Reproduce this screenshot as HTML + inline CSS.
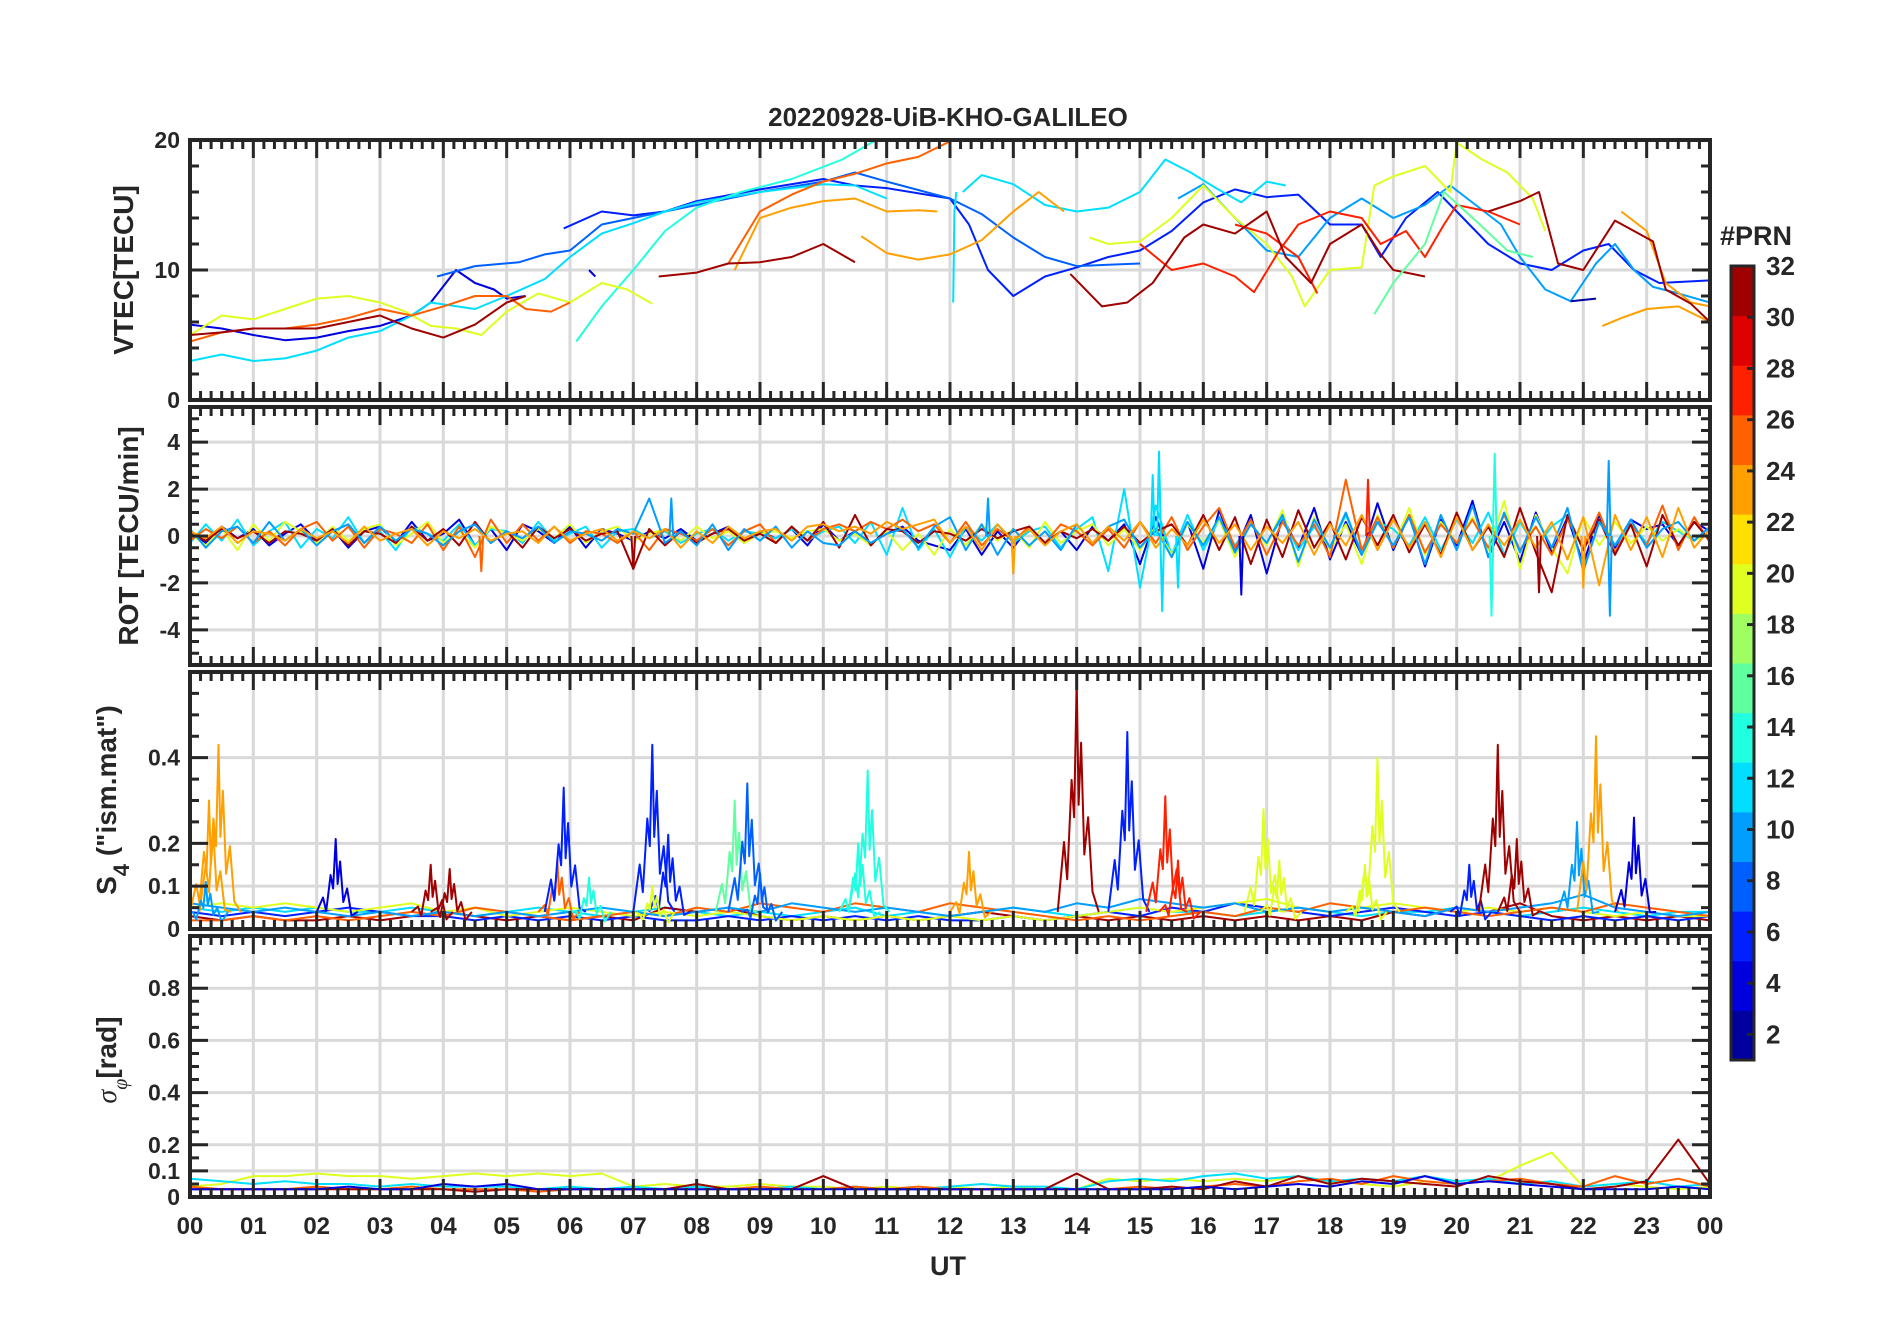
<!DOCTYPE html>
<html><head><meta charset="utf-8"><style>
html,body{margin:0;padding:0;background:#fff;width:1902px;height:1330px;overflow:hidden}
svg text{font-family:"Liberation Sans",Arial,sans-serif;font-weight:bold;fill:#262626}
</style></head><body>
<svg id="chart" width="1902" height="1330" xmlns="http://www.w3.org/2000/svg"></svg>
<script>
// ---------- DATA ----------
const hourTicks = ["00","01","02","03","04","05","06","07","08","09","10","11","12","13","14","15","16","17","18","19","20","21","22","23","00"];
const vtecTicks = [0,10,20];
const rotTicks = [-4,-2,0,2,4];
const s4Ticks = [0,0.1,0.2,0.4];
const phiTicks = [0,0.1,0.2,0.4,0.6,0.8];
const cbTicks = [2,4,6,8,10,12,14,16,18,20,22,24,26,28,30,32];

// VTEC traces: prn + [hour, TECU] points
const vtecPrn = [3,5,8,11,12,14,12,10,19,20,24,24,24,24,26,26,28,28,31,31,31,31,16,4,2];
const vtecPts = [
 [[0,5.8],[0.5,5.5],[1,5],[1.5,4.6],[2,4.8],[2.5,5.3],[3,5.7],[3.5,6.5],[3.8,7.5],[4.2,10],[4.5,9],[4.8,8.5],[5,7.8],[5.3,8]],
 [[5.9,13.2],[6.5,14.5],[7,14.2],[7.5,14.5],[8,15.3],[9,16.2],[10,17],[10.5,16.5],[11,16.3],[12,15.5],[12.3,13.5],[12.6,10],[13,8],[13.5,9.5],[14,10.2],[14.5,11],[15,11.5],[15.5,13],[16,15.2],[16.5,16.2],[17,15.6],[17.5,15.8],[18,13.5],[18.5,13.5],[18.8,11],[19.2,14],[19.7,16],[20,14.5],[20.5,12],[21,10.5],[21.5,10],[22,11.5],[22.4,12],[22.8,10],[23.2,9],[24,9.2]],
 [[3.9,9.5],[4.5,10.3],[5.2,10.6],[5.6,11.2],[6,11.5],[6.5,13.5],[7.2,14.2],[8,15],[9,16],[10,16.8],[10.5,17.5],[11,16.8],[12,15.5],[12.5,14.3],[13,12.5],[13.5,11],[14,10.3],[14.5,10.4],[15,10.5]],
 [[0,3],[0.5,3.5],[1,3],[1.5,3.2],[2,3.8],[2.5,4.8],[3,5.3],[3.5,6.5],[3.8,7.5],[4.5,7],[5,8],[5.6,9.3],[6,11],[6.5,12.8],[7,13.6],[7.5,14.5],[8,15.2],[9,16],[10,16.6],[10.5,16.5],[11,15.5]],
 [[12.2,16],[12.5,17.3],[13,16.6],[13.5,15],[14,14.5],[14.5,14.8],[15,16],[15.4,18.5],[15.8,17.5],[16.2,16.3],[16.6,15.2],[17,16.8],[17.3,16.5]],
 [[6.1,4.5],[6.5,7.2],[7,10],[7.5,13],[8,14.8],[8.7,16],[9.5,17],[10.3,18.5],[10.8,19.9]],
 [[12.05,7.5],[12.07,14.5],[12.1,16]],
 [[15.6,15.5],[16,16.6],[16.5,14],[17,11.5],[17.5,11],[18,14],[18.5,15.5],[19,14],[19.5,15],[19.9,16.5],[20.3,15],[20.7,13.5],[21,11],[21.4,8.5],[21.8,7.6],[22.2,10.5],[22.5,12],[22.8,10],[23.1,8.7],[23.5,8.2],[24,7.5]],
 [[0,5],[0.5,6.5],[1,6.2],[1.5,7],[2,7.8],[2.5,8],[3,7.5],[3.4,6.8],[3.8,5.7],[4.2,5.5],[4.6,5],[5,6.8],[5.5,8.2],[6,7.5],[6.5,9],[6.9,8.5],[7.3,7.4]],
 [[14.2,12.5],[14.5,12],[15,12.2],[15.5,14],[16,16.5],[16.5,14],[17,12],[17.4,9.5],[17.6,7.2],[18,10],[18.5,10.2],[18.7,16.5],[19,17.2],[19.5,18],[19.9,16],[20,19.8],[20.4,18.5],[20.8,17.5],[21.2,15.5],[21.4,13]],
 [[8.6,10],[9,14],[9.5,14.8],[10,15.3],[10.5,15.5],[11,14.5],[11.5,14.6],[11.8,14.5]],
 [[10.6,12.6],[11,11.3],[11.5,10.8],[12,11.2],[12.5,12.3],[13,14.5],[13.4,16],[13.8,14.5]],
 [[22.3,5.7],[22.6,6.3],[23,7],[23.5,7.2],[24,6]],
 [[22.6,14.5],[23,13],[23.3,9],[23.7,7.5],[24,7.2]],
 [[0,4.5],[0.5,5.2],[1,5.5],[1.5,5.5],[2,5.8],[2.5,6.3],[3,7],[3.5,6.5],[4,7.2],[4.5,8],[5,8],[5.3,7],[5.7,6.8],[6,7.5]],
 [[8.5,10.5],[9,14.5],[9.5,15.8],[10,16.8],[10.5,17.4],[11,18.2],[11.5,18.7],[12,19.9]],
 [[15,12],[15.5,10],[16,10.5],[16.5,9.5],[16.8,8.3],[17.2,11.5],[17.5,13.5],[18,14.5],[18.5,14],[18.8,12],[19.2,13],[19.5,11],[19.8,13.5],[20,15],[20.5,14.5],[21,13.5]],
 [[16.5,13.5],[17,12.8],[17.5,11],[17.8,8.2]],
 [[0,5],[0.5,5.2],[1,5.5],[1.5,5.5],[2,5.5],[2.5,6],[3,6.5],[3.5,5.5],[4,4.8],[4.5,5.8],[5,7.5],[5.3,8]],
 [[7.4,9.5],[8,9.8],[8.5,10.5],[9,10.6],[9.5,11],[10,12],[10.5,10.6]],
 [[13.9,9.7],[14.4,7.2],[14.8,7.5],[15.2,9],[15.7,12.5],[16,13.5],[16.5,12.8],[17,14.5],[17.3,11],[17.7,9],[18,12],[18.5,13.5],[18.8,11.2],[19,10],[19.5,9.5]],
 [[20.5,14.5],[21,15.3],[21.3,16],[21.6,10.5],[22,10],[22.5,13.8],[22.8,13],[23.1,12.2],[23.3,8.5],[23.7,7.4],[24,6]],
 [[18.7,6.6],[19,9],[19.5,12],[19.8,16],[20.3,13.8],[20.8,11.5],[21.2,11]],
 [[6.3,10],[6.4,9.5]],
 [[21.8,7.6],[22.2,7.8]]
];

// ROT series, evenly spaced over 00-24 UT
const rotPrn = [4,12,20,26,31,9,23];
const rotVals = [
 [0.2,-0.3,0.4,-0.1,0.3,-0.4,0.1,0.5,-0.2,0.3,-0.5,0.2,0.4,-0.3,0.6,-0.2,0.1,0.7,-0.4,0.3,-0.6,0.5,0.2,-0.3,0.4,-0.5,0.3,0.1,-0.2,0.2,-0.1,0.3,-0.2,0.1,0.4,-0.3,0.2,-0.1,0.3,-0.4,0.5,-0.2,0.2,-0.3,0.1,0.4,-0.2,-0.4,-0.6,0.3,-0.8,0.2,-0.5,0.4,-0.3,0.2,-0.6,0.4,-0.2,0.5,-1.2,0.8,-0.9,0.6,-1.4,1.1,-0.7,0.9,-1.6,0.8,-0.5,1.2,-1.0,0.6,-0.8,1.4,-0.6,0.9,-1.3,0.7,-0.4,1.5,-0.9,0.6,-1.1,1.0,-0.7,0.8,-1.2,0.9,-0.5,0.7,0.3,0.5,-0.4,0.6,0.2],
 [-0.3,0.5,-0.2,0.7,-0.4,0.2,0.6,-0.5,0.3,-0.1,0.8,-0.3,0.2,-0.6,0.4,0.1,-0.2,0.5,-0.4,0.3,0.2,-0.3,0.6,-0.2,0.1,0.4,-0.5,0.2,0.3,-0.1,0.2,-0.3,0.1,0.3,-0.2,0.2,0.1,-0.1,0.3,-0.2,0.2,0.4,-0.3,0.6,-0.8,1.2,-0.6,0.3,-0.9,0.4,-0.2,0.5,-0.3,0.2,0.4,-0.5,0.3,0.8,-1.5,2.0,-2.2,1.3,-0.8,0.9,-0.6,0.7,-0.4,0.5,-0.3,0.8,-0.6,0.4,-0.5,0.9,-0.7,0.6,0.3,-0.4,0.8,-0.6,0.7,-0.3,1.0,-0.8,0.6,-0.5,0.4,0.9,-0.6,0.7,-0.4,0.5,-0.3,0.6,0.2,-0.2,0.4],
 [0.1,-0.4,0.3,-0.6,0.5,-0.2,0.6,0.2,-0.3,0.4,-0.2,0.3,0.5,-0.4,0.1,0.6,-0.3,0.2,-0.5,0.4,0.1,-0.2,0.3,-0.1,0.5,-0.3,0.2,0.4,-0.2,0.1,0.3,-0.2,0.4,-0.1,0.2,-0.3,0.1,0.2,-0.1,0.2,0.3,-0.2,0.1,-0.4,0.2,-0.6,0.1,-0.8,0.3,-0.4,0.5,-0.2,0.3,-0.5,0.6,-0.3,0.2,0.5,-0.4,0.3,-0.6,0.4,-0.8,0.5,-0.3,0.7,-0.9,0.6,-0.4,1.1,-1.3,0.8,-0.6,0.5,-1.2,0.9,-0.5,1.2,-0.8,0.6,-0.3,0.8,-0.6,1.5,-1.4,0.9,-0.5,-1.6,0.8,-0.4,0.6,-0.3,0.4,-0.2,0.3,-0.2,0.1],
 [-0.2,0.3,-0.1,0.4,-0.3,0.2,-0.4,0.3,0.6,-0.2,0.4,-0.5,0.3,0.1,-0.3,0.5,-0.6,0.4,-0.9,0.7,-0.3,0.5,-0.2,0.4,-0.3,0.2,0.1,-0.3,0.2,-0.6,0.3,0.1,-0.2,0.3,-0.4,0.2,0.5,-0.3,0.4,-0.2,0.3,0.5,0.2,0.6,0.3,0.7,0.2,0.5,-0.3,0.6,-0.4,0.3,-0.2,0.4,-0.3,0.5,0.2,-0.4,0.3,-0.5,0.6,-0.3,0.8,-0.6,0.4,1.2,-0.5,0.7,-0.8,0.6,-0.4,0.5,-0.9,2.4,-0.6,0.8,-0.5,0.9,-0.7,0.5,-0.3,0.7,-0.5,0.9,-0.6,0.4,-0.8,0.7,-0.5,1.0,-0.7,0.5,-0.4,1.3,-0.6,0.8,-0.3],
 [0.1,-0.2,0.3,-0.1,0.2,-0.3,0.2,0.1,-0.2,0.3,-0.4,0.2,0.1,-0.3,0.4,-0.2,0.3,-0.4,0.6,-0.3,0.2,-0.5,0.4,-0.1,0.3,-0.2,0.1,0.2,-1.4,0.3,-0.4,0.2,-0.3,0.1,0.3,-0.2,0.1,-0.3,0.4,-0.2,0.6,-0.5,0.9,-0.4,0.3,0.2,-0.3,0.2,0.1,-0.2,0.3,-0.1,0.2,0.4,-0.3,0.2,-0.1,0.3,-0.2,0.4,-0.3,0.2,0.5,-0.4,0.9,-0.6,0.8,-1.2,0.7,-0.9,1.1,-0.5,0.6,-1.0,0.8,-0.4,0.9,-0.7,0.5,-0.8,1.0,-0.6,0.4,-0.9,1.2,-0.7,-2.4,0.9,-0.6,0.7,-0.8,0.5,-1.3,0.9,-0.4,0.6,-0.2],
 [0.3,-0.5,0.2,0.4,-0.3,0.6,-0.2,0.3,-0.4,0.2,0.5,-0.3,0.4,-0.2,0.3,0.1,-0.4,0.2,0.5,-0.3,0.2,-0.1,0.4,-0.3,0.2,0.1,-0.2,0.3,0.1,1.6,-0.3,0.2,-0.4,0.5,-0.6,0.3,-0.2,0.4,-0.5,0.2,-0.3,-0.4,0.2,-0.3,0.1,0.3,-0.5,0.4,0.8,-0.6,0.5,-0.8,0.3,-0.4,0.2,-0.6,0.5,-0.3,0.4,0.7,-0.5,0.3,-0.9,0.6,-0.4,0.8,-0.7,0.5,-0.3,0.9,-1.1,0.7,-0.5,1.0,-0.8,0.6,-0.4,0.8,-1.2,0.9,-0.6,1.3,-0.9,1.0,-0.7,0.8,-0.5,1.2,-1.5,0.6,-0.4,0.7,-0.5,0.3,0.6,-0.2,0.4],
 [0.2,-0.1,0.4,-0.3,0.2,0.1,-0.2,0.3,-0.1,0.2,-0.3,0.4,-0.2,0.1,0.3,-0.4,0.2,-0.1,0.3,-0.2,0.1,0.2,-0.3,0.4,-0.2,0.1,0.3,-0.2,0.2,-0.1,0.3,-0.5,0.2,-0.3,0.4,-0.1,0.2,0.3,-0.2,0.4,0.5,0.2,0.4,0.1,0.6,0.3,0.5,0.7,-0.3,0.4,-0.6,0.5,-0.2,0.3,-0.4,0.2,0.5,-0.3,0.4,-0.2,0.6,-0.5,0.3,-0.4,0.7,-0.3,0.5,-0.6,0.4,-0.3,0.6,-0.8,0.5,-0.4,0.9,-0.6,0.7,-0.5,0.6,-0.9,0.8,-0.6,0.5,-0.4,0.7,-0.5,0.6,-1.0,0.8,-2.1,0.9,-0.6,0.8,-0.9,1.2,-0.5,0.3]
];
// ROT spikes: prn, hour, value
const rotSpikePrn = [12,12,12,14,14,9,9,27,4,31,31,9,23,24,10,26,12];
const rotSpikeHour = [15.3,15.35,15.2,20.6,20.55,22.4,22.42,18.6,16.6,21.3,7.0,7.6,22.0,13.0,12.6,4.6,15.6];
const rotSpikeVal = [3.6,-3.2,2.6,3.5,-3.4,3.2,-3.4,2.4,-2.5,-2.4,-1.4,1.6,-2.2,-1.6,1.6,-1.5,-2.2];

// S4 baselines (evenly spaced)
const s4BasePrn = [11,31,5,20,26,9];
const s4BaseVals = [
 [0.05,0.04,0.05,0.04,0.05,0.04,0.04,0.05,0.04,0.03,0.04,0.05,0.04,0.03,0.04,0.05,0.04,0.03,0.04,0.03,0.04,0.05,0.03,0.04,0.03,0.04,0.05,0.04,0.03,0.04,0.05,0.04,0.04,0.03,0.04,0.05,0.04,0.03,0.04,0.04,0.05,0.04,0.03,0.04,0.05,0.04,0.03,0.04,0.04],
 [0.03,0.02,0.03,0.02,0.02,0.03,0.02,0.03,0.04,0.03,0.02,0.03,0.02,0.03,0.02,0.05,0.04,0.05,0.03,0.02,0.03,0.02,0.03,0.02,0.03,0.04,0.03,0.02,0.03,0.02,0.03,0.02,0.03,0.02,0.03,0.02,0.03,0.02,0.04,0.03,0.05,0.04,0.06,0.03,0.02,0.03,0.02,0.03,0.02],
 [0.04,0.03,0.04,0.03,0.04,0.05,0.04,0.03,0.03,0.02,0.03,0.02,0.03,0.02,0.03,0.02,0.02,0.03,0.02,0.03,0.02,0.03,0.02,0.03,0.02,0.02,0.03,0.02,0.03,0.04,0.03,0.05,0.04,0.06,0.05,0.04,0.03,0.04,0.05,0.04,0.03,0.04,0.03,0.02,0.03,0.02,0.03,0.02,0.03],
 [0.05,0.06,0.05,0.06,0.05,0.04,0.05,0.06,0.04,0.05,0.03,0.04,0.05,0.04,0.03,0.04,0.03,0.04,0.03,0.02,0.03,0.02,0.03,0.02,0.03,0.02,0.03,0.02,0.03,0.04,0.05,0.04,0.05,0.06,0.07,0.05,0.04,0.05,0.06,0.05,0.04,0.05,0.04,0.05,0.04,0.03,0.04,0.03,0.03],
 [0.02,0.02,0.03,0.02,0.03,0.02,0.03,0.04,0.03,0.05,0.04,0.03,0.02,0.03,0.04,0.03,0.05,0.04,0.06,0.05,0.04,0.06,0.05,0.04,0.06,0.05,0.04,0.03,0.02,0.03,0.02,0.03,0.04,0.03,0.05,0.04,0.06,0.05,0.04,0.05,0.04,0.03,0.04,0.05,0.04,0.06,0.05,0.04,0.03],
 [0.06,0.05,0.04,0.05,0.04,0.03,0.04,0.03,0.04,0.03,0.04,0.03,0.04,0.05,0.04,0.03,0.04,0.05,0.04,0.06,0.05,0.04,0.05,0.04,0.03,0.04,0.05,0.04,0.06,0.05,0.07,0.06,0.05,0.06,0.04,0.05,0.04,0.05,0.04,0.03,0.05,0.04,0.05,0.06,0.08,0.05,0.04,0.03,0.04]
];
// S4 scintillation events: prn, hour, peak, second peak
const s4EvPrn  = [24,24,3,31,31,26,5,13,5,5,20,15,8,8,13,13,24,31,6,27,27,20,20,19,19,5,31,31,9,24,4,9];
const s4EvHour = [0.3,0.45,2.3,3.8,4.1,5.8,5.9,6.3,7.3,7.55,7.3,8.6,8.8,9.0,10.55,10.7,12.3,14.0,14.8,15.4,15.6,16.95,17.2,18.55,18.75,20.2,20.65,20.95,21.9,22.2,22.8,0.25];
const s4EvPeak = [0.30,0.43,0.21,0.15,0.14,0.16,0.33,0.12,0.43,0.22,0.10,0.30,0.34,0.13,0.20,0.37,0.18,0.58,0.46,0.31,0.16,0.28,0.16,0.15,0.40,0.15,0.43,0.21,0.25,0.45,0.26,0.11];

// sigma-phi baselines
const phiPrn = [20,12,26,31,4];
const phiVals = [
 [0.04,0.05,0.08,0.08,0.09,0.08,0.08,0.07,0.08,0.09,0.08,0.09,0.08,0.09,0.04,0.05,0.04,0.04,0.05,0.04,0.04,0.03,0.04,0.03,0.04,0.03,0.04,0.03,0.03,0.07,0.06,0.07,0.06,0.07,0.06,0.08,0.06,0.05,0.04,0.06,0.05,0.06,0.12,0.17,0.04,0.05,0.04,0.03,0.04],
 [0.07,0.06,0.05,0.06,0.05,0.05,0.04,0.05,0.04,0.04,0.04,0.03,0.04,0.03,0.04,0.03,0.04,0.03,0.03,0.04,0.03,0.04,0.03,0.03,0.04,0.05,0.04,0.04,0.03,0.06,0.07,0.06,0.08,0.09,0.07,0.08,0.06,0.07,0.06,0.08,0.06,0.07,0.05,0.06,0.04,0.05,0.06,0.04,0.05],
 [0.04,0.03,0.03,0.03,0.04,0.03,0.03,0.04,0.03,0.03,0.03,0.02,0.03,0.03,0.03,0.03,0.03,0.03,0.04,0.03,0.03,0.04,0.03,0.04,0.03,0.03,0.03,0.03,0.03,0.03,0.04,0.03,0.04,0.05,0.04,0.06,0.07,0.05,0.08,0.06,0.05,0.06,0.07,0.05,0.04,0.08,0.05,0.07,0.04],
 [0.03,0.03,0.03,0.03,0.03,0.03,0.03,0.03,0.03,0.02,0.03,0.03,0.03,0.03,0.03,0.03,0.05,0.03,0.03,0.03,0.08,0.03,0.03,0.03,0.03,0.03,0.03,0.03,0.09,0.03,0.03,0.04,0.03,0.06,0.04,0.08,0.05,0.07,0.06,0.05,0.04,0.08,0.06,0.05,0.03,0.04,0.06,0.22,0.05],
 [0.03,0.03,0.03,0.03,0.03,0.04,0.03,0.03,0.05,0.04,0.05,0.03,0.03,0.03,0.03,0.03,0.03,0.03,0.03,0.03,0.03,0.03,0.03,0.03,0.03,0.03,0.03,0.03,0.03,0.03,0.03,0.03,0.04,0.03,0.04,0.05,0.04,0.06,0.05,0.08,0.05,0.06,0.05,0.04,0.03,0.03,0.03,0.04,0.03]
];

// ---------- RENDER ----------
const svg = document.getElementById('chart');
const NS = 'http://www.w3.org/2000/svg';
const L = 190, R = 1710;
const panels = [
 {name:'vtec', top:140, bot:400, min:0, max:20, ticks:vtecTicks, minor:2},
 {name:'rot', top:407, bot:665, min:-5.5, max:5.5, ticks:rotTicks, minor:0.5},
 {name:'s4', top:672, bot:929, min:0, max:0.6, ticks:s4Ticks, minor:0.05},
 {name:'phi', top:936, bot:1197, min:0, max:1, ticks:phiTicks, minor:0.05}
];
function xs(h){ return L + h/24*(R-L); }
function ys(p,v){ return p.bot - (v-p.min)/(p.max-p.min)*(p.bot-p.top); }
function jet(t){
 const c = x => Math.max(0, Math.min(1, x));
 const r = c(1.5 - Math.abs(4*t-3)), g = c(1.5 - Math.abs(4*t-2)), b = c(1.5 - Math.abs(4*t-1));
 return 'rgb(' + Math.round(r*255) + ',' + Math.round(g*255) + ',' + Math.round(b*255) + ')';
}
function prnColor(p){ const k = Math.floor((p-1)/2); return jet((k+0.5)/16); }
function mk(tag, attrs, parent){
 const e = document.createElementNS(NS, tag);
 for (const k in attrs) e.setAttribute(k, attrs[k]);
 (parent||svg).appendChild(e); return e;
}
function poly(p, pts, color, g, w){
 const d = pts.map(q => xs(q[0]).toFixed(1) + ',' + ys(p, Math.max(p.min, Math.min(p.max, q[1]))).toFixed(1)).join(' ');
 const e = mk('polyline', {points:d, fill:'none', stroke:color, 'stroke-width':w||2, 'stroke-linejoin':'round'}, g);
 return e;
}
function even(vals){ return vals.map((v,i) => [i*24/(vals.length-1), v]); }

// title
const title = mk('text', {x:948, y:126, 'text-anchor':'middle', 'font-size':26});
title.textContent = '20220928-UiB-KHO-GALILEO';



panels.forEach((p, pi) => {
 const g = mk('g', {});
 
 
 // grid
 for (let h = 1; h < 24; h++) {
  const gl = mk('line', {x1:xs(h), x2:xs(h), y1:p.top, y2:p.bot, stroke:'#d9d9d9', 'stroke-width':3}, g);
  
  
 }
 p.ticks.forEach(t => {
  if (t === p.min || t === p.max) return;
  const gl = mk('line', {x1:L, x2:R, y1:ys(p,t), y2:ys(p,t), stroke:'#d9d9d9', 'stroke-width':3}, g);
  
  
 });
 // clip
 const cp = mk('clipPath', {id:'clip'+pi}, g);
 mk('rect', {x:L, y:p.top, width:R-L, height:p.bot-p.top}, cp);
 const dg = mk('g', {'clip-path':'url(#clip'+pi+')'}, g);
 
 
 if (p.name === 'vtec') {
  vtecPts.forEach((pts, i) => {
   const e = poly(p, pts, prnColor(vtecPrn[i]), dg);
   
   
  });
 } else if (p.name === 'rot') {
  rotVals.forEach((vals, i) => {
   const e = poly(p, even(vals), prnColor(rotPrn[i]), dg);
   
   
  });
  rotSpikeHour.forEach((h, i) => {
   const e = poly(p, [[h-0.03,0],[h,rotSpikeVal[i]],[h+0.03,0]], prnColor(rotSpikePrn[i]), dg);
   
   
  });
 } else if (p.name === 's4') {
  s4BaseVals.forEach((vals, i) => {
   const e = poly(p, even(vals), prnColor(s4BasePrn[i]), dg);
   
   
  });
  s4EvHour.forEach((h, i) => {
   const pk = s4EvPeak[i];
   const pts = [[h-0.3,0.04],[h-0.2,pk*0.35],[h-0.15,pk*0.2],[h-0.08,pk*0.6],[h-0.04,pk*0.45],[h,pk],[h+0.03,pk*0.5],[h+0.07,pk*0.75],[h+0.12,pk*0.3],[h+0.18,pk*0.45],[h+0.25,pk*0.15],[h+0.35,0.04]];
   const e = poly(p, pts, prnColor(s4EvPrn[i]), dg);
   
   
  });
 } else {
  phiVals.forEach((vals, i) => {
   const e = poly(p, even(vals), prnColor(phiPrn[i]), dg);
   
   
  });
 }
 // ticks
 let tk = '';
 for (let m = 0; m <= 144; m++) {
  const x = xs(m/6), len = (m % 6 === 0) ? 18 : 9;
  tk += 'M' + x + ',' + p.top + 'v' + len + 'M' + x + ',' + p.bot + 'v' + (-len);
 }
 for (let v = p.min; v <= p.max + 1e-9; v += p.minor) {
  const vv = Math.round(v/p.minor)*p.minor;
  const major = p.ticks.some(t => Math.abs(t - vv) < 1e-6);
  const len = major ? 18 : 9, y = ys(p, vv);
  tk += 'M' + L + ',' + y + 'h' + len + 'M' + R + ',' + y + 'h' + (-len);
 }
 const te = mk('path', {d:tk, stroke:'#262626', 'stroke-width':3, fill:'none'}, g);
 
 
 const box = mk('rect', {x:L, y:p.top, width:R-L, height:p.bot-p.top, fill:'none', stroke:'#262626', 'stroke-width':4}, g);
 
 
 p.ticks.forEach(t => {
  const tl = mk('text', {x:L-10, y:ys(p,t)+8, 'text-anchor':'end', 'font-size':23}, g);
  tl.textContent = String(t);
  
  
 });
});

// x tick labels
hourTicks.forEach((lab, i) => {
 const t = mk('text', {x:xs(i), y:1234, 'text-anchor':'middle', 'font-size':24});
 t.textContent = lab;
 
 
});
const ut = mk('text', {x:948, y:1275, 'text-anchor':'middle', 'font-size':27});
ut.textContent = 'UT';



// y axis titles
function ytitle(txt, cx, cy, name){
 const t = mk('text', {x:0, y:0, 'text-anchor':'middle', 'font-size':28, transform:'translate(' + cx + ',' + cy + ') rotate(-90)'});
 t.innerHTML = txt;
 
 
}
ytitle('VTEC[TECU]', 133, 270, 'vtec-y-title');
ytitle('ROT [TECU/min]', 138, 536, 'rot-y-title');
ytitle('S<tspan baseline-shift="sub" font-size="22">4</tspan> ("ism.mat")', 116, 800, 's4-y-title');
ytitle('<tspan font-family="Liberation Serif" font-style="italic" font-weight="normal">σ</tspan><tspan baseline-shift="sub" font-size="20" font-family="Liberation Serif" font-style="italic" font-weight="normal">φ</tspan>[rad]', 116, 1060, 'phi-y-title');

// colorbar
const cbTop = 266, cbBot = 1060, cbL = 1731, cbW = 23;
const cg = mk('g', {});


for (let k = 0; k < 16; k++) {
 const y0 = cbBot - (k+1)*(cbBot-cbTop)/16;
 mk('rect', {x:cbL, y:y0, width:cbW, height:(cbBot-cbTop)/16 + 0.5, fill:jet((k+0.5)/16)}, cg);
}
mk('rect', {x:cbL, y:cbTop, width:cbW, height:cbBot-cbTop, fill:'none', stroke:'#262626', 'stroke-width':3}, cg);
function cby(v){ return cbTop + (32 - v)/31*(cbBot-cbTop); }
cbTicks.forEach(v => {
 mk('line', {x1:cbL+cbW-7, x2:cbL+cbW, y1:cby(v), y2:cby(v), stroke:'#262626', 'stroke-width':3}, cg);
 const t = mk('text', {x:1766, y:cby(v)+9, 'font-size':26}, cg);
 t.textContent = String(v);
 
 
});
const pr = mk('text', {x:1720, y:245, 'font-size':27});
pr.textContent = '#PRN';


</script>
</body></html>
